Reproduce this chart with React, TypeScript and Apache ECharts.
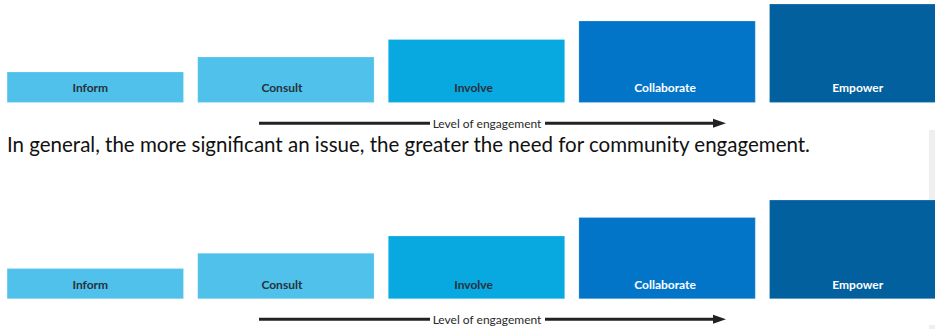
import React, { useEffect, useRef } from "react";
import * as echarts from "echarts";

const categories = ["Inform", "Consult", "Involve", "Collaborate", "Empower"];
const topRowValues = [31, 46, 63.5, 82, 99];
const bottomRowValues = [30.7, 46, 63.3, 81.7, 99.3];
const barColors = ["#4fc1ea", "#4fc1ea", "#08a8e1", "#0275c9", "#02609e"];
const labelColors = ["#26323b", "#26323b", "#26323b", "#ffffff", "#ffffff"];
const labelShift = [-5, -4, -3, -2, 0];
const axisCaption = "Level of engagement";
const sentence =
  "In general, the more significant an issue, the greater the need for community engagement.";

function buildSeries(values: number[], idx: number) {
  return {
    type: "bar",
    xAxisIndex: idx,
    yAxisIndex: idx,
    barWidth: 177,
    silent: true,
    data: values.map((v, i) => ({
      value: v,
      itemStyle: { color: barColors[i], borderColor: "rgba(255,255,255,0.35)", borderWidth: 0.6 },
      label: { color: labelColors[i], offset: [labelShift[i], 0] },
    })),
    label: {
      show: true,
      position: "insideBottom",
      distance: 9,
      formatter: (p: any) => categories[p.dataIndex],
      fontFamily: "Lato",
      fontWeight: "bold",
      fontSize: 12,
    },
  };
}

function arrow(y: number) {
  return [
    {
      type: "line",
      shape: { x1: 259, y1: y, x2: 430, y2: y },
      style: { stroke: "#222222", lineWidth: 3 },
    },
    {
      type: "text",
      x: 487,
      y: y,
      style: {
        text: axisCaption,
        fontFamily: "Lato",
        fontSize: 12,
        fill: "#2a2a2a",
        align: "center",
        verticalAlign: "middle",
      },
    },
    {
      type: "line",
      shape: { x1: 545, y1: y, x2: 715, y2: y },
      style: { stroke: "#222222", lineWidth: 3 },
    },
    {
      type: "polygon",
      shape: { points: [[713, y - 4.5], [726, y], [713, y + 4.5]] },
      style: { fill: "#222222" },
    },
  ];
}

export default function App() {
  const ref = useRef<HTMLDivElement>(null);
  useEffect(() => {
    if (!ref.current) return;
    const chart = echarts.init(ref.current, undefined, { renderer: "svg" });
    const hiddenCat = (gi: number) => ({
      type: "category",
      gridIndex: gi,
      data: categories,
      show: false,
    });
    const hiddenVal = (gi: number) => ({
      type: "value",
      gridIndex: gi,
      min: 0,
      max: 100,
      show: false,
    });
    chart.setOption({
      animation: false,
      backgroundColor: "#ffffff",
      grid: [
        { left: 0, top: 2.7, width: 953, height: 100 },
        { left: 0, top: 199, width: 953, height: 100 },
      ],
      xAxis: [hiddenCat(0), hiddenCat(1)],
      yAxis: [hiddenVal(0), hiddenVal(1)],
      series: [buildSeries(topRowValues, 0), buildSeries(bottomRowValues, 1)],
      graphic: [
        { type: "rect", shape: { x: 929, y: 130, width: 6, height: 70 }, style: { fill: "#efefef" }, z: -1 },
        { type: "rect", shape: { x: 929, y: 325, width: 6, height: 4 }, style: { fill: "#efefef" }, z: -1 },
        ...arrow(123.3),
        ...arrow(319.3),
        {
          type: "text",
          x: 7,
          y: 144,
          style: {
            text: sentence,
            fontFamily: "Lato",
            fontSize: 20.5,
            fill: "#111111",
            align: "left",
            verticalAlign: "middle",
          },
        },
      ],
    });
    return () => chart.dispose();
  }, []);
  return (
    <div
      style={{
        position: "absolute",
        left: 0,
        top: 0,
        width: 935,
        height: 329,
        overflow: "hidden",
      }}
    >
      <div ref={ref} style={{ width: 960, height: 329 }} />
    </div>
  );
}
